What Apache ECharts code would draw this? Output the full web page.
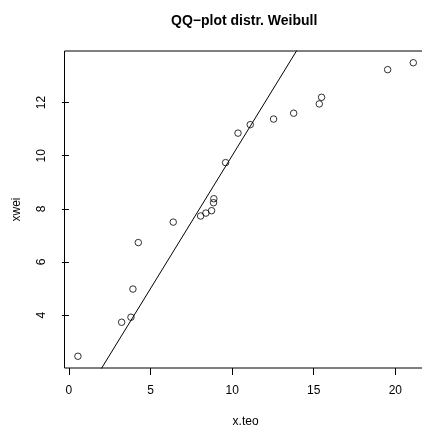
<!doctype html>
<html>
<head>
<meta charset="utf-8">
<script src="https://cdn.jsdelivr.net/npm/echarts@6/dist/echarts.min.js"></script>
<style>
    html, body {margin: 0; padding: 0; background: #fff;}
    #chart {width: 422px; height: 427px;}
</style>
</head>
<body>
<div id="chart"></div>
<script>
    // quantili teorici (x) e osservati (y)
    var xTeo = [0.55, 3.23, 3.80, 3.92, 4.25, 6.39, 8.07, 8.39, 8.74, 8.86, 8.88, 9.60, 10.36, 11.11, 12.54, 13.77, 15.34, 15.48, 19.53, 21.10];
    var xWei = [2.45, 3.73, 3.92, 4.98, 6.73, 7.50, 7.73, 7.84, 7.93, 8.23, 8.38, 9.74, 10.85, 11.17, 11.38, 11.60, 11.95, 12.20, 13.24, 13.50];
    var xTicks = [0, 5, 10, 15, 20];
    var yTicks = [4, 6, 8, 10, 12];
    // retta y = a + b x
    var lineIntercept = 0, lineSlope = 1;

    // range come in R: +4% per lato
    function ext(arr) {
        var lo = Math.min.apply(null, arr), hi = Math.max.apply(null, arr);
        var r = hi - lo;
        return [lo - 0.04 * r, hi + 0.04 * r];
    }
    var xr = ext(xTeo), yr = ext(xWei);

    var points = xTeo.map(function (v, i) { return [v, xWei[i]]; });
    var refLine = [xr[0], xr[1]].map(function (v) { return [v, lineIntercept + lineSlope * v]; });

    var font = 'Liberation Sans, Arial, sans-serif';
    var myChart = echarts.init(document.getElementById('chart'));
    var option = {
        animation: false,
        backgroundColor: '#fff',
        title: {
            text: 'QQ\u2212plot distr. Weibull',
            left: 171,
            top: 14,
            padding: 0,
            textStyle: {fontFamily: font, fontSize: 14, fontWeight: 'bold', color: '#000'}
        },
        grid: {
            left: 64.5, top: 51, bottom: 59, right: -4.7,
            outerBoundsMode: 'none',
            containLabel: false,
            show: true, borderColor: '#000', borderWidth: 1, backgroundColor: 'transparent'
        },
        xAxis: {
            type: 'value',
            min: xr[0], max: xr[1],
            name: 'x.teo',
            nameLocation: 'middle',
            nameGap: 48,
            nameTextStyle: {fontFamily: font, fontSize: 12, color: '#000'},
            axisLine: {show: false},
            splitLine: {show: false},
            axisTick: {show: true, length: 7, customValues: xTicks, lineStyle: {color: '#000'}},
            axisLabel: {customValues: xTicks, margin: 17, fontFamily: font, fontSize: 12, color: '#000'}
        },
        yAxis: {
            type: 'value',
            min: yr[0], max: yr[1],
            name: 'xwei',
            nameLocation: 'middle',
            nameGap: 42,
            nameRotate: 90,
            nameTextStyle: {fontFamily: font, fontSize: 12, color: '#000'},
            axisLine: {show: false},
            splitLine: {show: false},
            axisTick: {show: true, length: 7, customValues: yTicks, lineStyle: {color: '#000'}},
            axisLabel: {customValues: yTicks, rotate: 90, margin: 17, fontFamily: font, fontSize: 12, color: '#000'}
        },
        series: [
            {
                type: 'scatter',
                data: points,
                symbol: 'circle',
                symbolSize: 6.5,
                itemStyle: {color: 'rgba(0,0,0,0)', borderColor: '#000', borderWidth: 1}
            },
            {
                type: 'line',
                data: refLine,
                showSymbol: false,
                symbol: 'none',
                clip: true,
                lineStyle: {color: '#000', width: 1}
            }
        ]
    };
    myChart.setOption(option);
</script>
</body>
</html>
